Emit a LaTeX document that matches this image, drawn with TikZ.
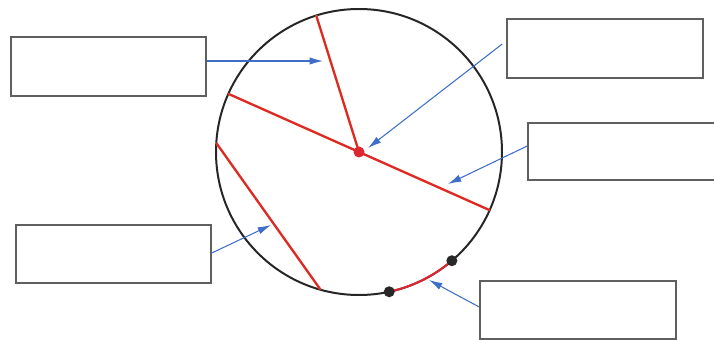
\documentclass[tikz,border=0pt]{standalone}
\usetikzlibrary{arrows.meta,calc}
\definecolor{redl}{RGB}{222,38,48}
\definecolor{yel}{RGB}{245,215,40}
\definecolor{bluea}{RGB}{62,110,200}
\definecolor{boxgray}{RGB}{95,95,95}
\definecolor{dotgray}{RGB}{40,40,40}
\begin{document}
\begin{tikzpicture}[x=0.03cm,y=-0.03cm,
  labelbox/.style={draw=boxgray,line width=1.3pt,inner sep=0pt,fill=white},
  redline/.style={draw=redl,line width=1.9pt},
  yelline/.style={draw=yel,line width=1.9pt},
  pointer/.style={draw=bluea,line width=0.9pt,-{Latex[length=4mm,width=2.2mm]}}]
\useasboundingbox (0,0) rectangle (714,340);
\coordinate (c) at (359,152);
\def\R{143}
% circle
\draw[line width=1.7pt,black!85] (c) circle (\R);
% points on circle
\coordinate (r1) at ($(c)+(-107.4:\R)$);
\coordinate (d1) at ($(c)+(-156:\R)$);
\coordinate (d2) at ($(c)+(24:\R)$);
\coordinate (h1) at ($(c)+(-176.4:\R)$);
\coordinate (h2) at ($(c)+(105.6:\R)$);
\coordinate (a1) at ($(c)+(77.8:\R)$);
\coordinate (a2) at ($(c)+(49.5:\R)$);
% yellow fringe
\begin{scope}[shift={(1.3,-1.3)}]
\draw[yelline] (c) -- (r1);
\draw[yelline] (d1) -- (d2);
\draw[yelline] (h1) -- (h2);
\end{scope}
% red lines
\draw[redline] (c) -- (r1);
\draw[redline] (d1) -- (d2);
\draw[redline] (h1) -- (h2);
% red arc
\draw[redline,line width=1.8pt] (a1) arc[start angle=77.8,end angle=49.5,radius=\R];
\fill[dotgray] (a1) circle (5.5);
\fill[dotgray] (a2) circle (5.5);
\fill[redl] (c) circle (5.5);
% boxes
\node[labelbox,minimum width=5.85cm,minimum height=1.77cm] (b1) at (108.5,66.5) {};
\node[labelbox,minimum width=5.88cm,minimum height=1.77cm] (b2) at (605,48.5) {};
\node[labelbox,minimum width=5.7cm,minimum height=1.71cm] (b3) at (623,151.5) {};
\node[labelbox,minimum width=5.85cm,minimum height=1.74cm] (b4) at (113.5,254) {};
\node[labelbox,minimum width=5.88cm,minimum height=1.74cm] (b5) at (578,310) {};
% arrow tips
\coordinate (t1) at (323,61);
\coordinate (t2) at (368,148);
\coordinate (t3) at (448,184);
\coordinate (t4) at (271,225);
\coordinate (t5) at (429,280);
% arrows
\draw[pointer] ($(b1.east)+(0,-5.5)$) -- (t1);
\draw[pointer] ($(b2.west)+(-4,-4.5)$) -- (t2);
\draw[pointer] ($(b3.west)+(0,-5.5)$) -- (t3);
\draw[pointer] ($(b4.east)+(0,-1)$) -- (t4);
\draw[pointer] ($(b5.west)+(0,-3)$) -- (t5);
\end{tikzpicture}
\end{document}
